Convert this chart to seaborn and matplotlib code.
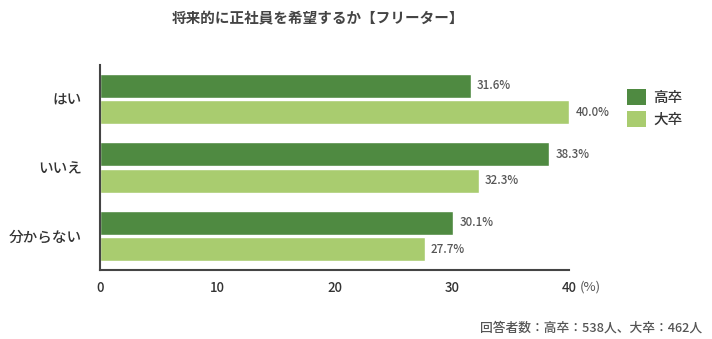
import matplotlib
matplotlib.use("Agg")
import matplotlib.pyplot as plt
from matplotlib.patches import Patch
import pandas as pd
import seaborn as sns

# Survey answers by education level
answers = ["はい", "いいえ", "分からない"]
groups = ["高卒", "大卒"]
high_school = [31.6, 38.3, 30.1]
university = [40.0, 32.3, 27.7]
x_ticks = [0, 10, 20, 30, 40]

title = "将来的に正社員を希望するか【フリーター】"
note = "回答者数：高卒：538人、大卒：462人"

colors = ["#4f8a41", "#a9cc6f"]

sns.set_theme(style="white")
plt.rcParams["font.family"] = ["Noto Sans CJK JP", "DejaVu Sans"]

df = pd.DataFrame({
    "answer": answers * 2,
    "group": [groups[0]] * 3 + [groups[1]] * 3,
    "value": high_school + university,
})

fig = plt.figure(figsize=(7.12, 3.39), dpi=100)
ax = fig.add_axes([100 / 712, 69 / 339, 469 / 712, 205 / 339])

sns.barplot(data=df, y="answer", x="value", hue="group", order=answers,
            hue_order=groups, palette=colors, orient="h", width=0.78, gap=0.1,
            saturation=1, ax=ax, legend=False)

for container in ax.containers:
    ax.bar_label(container, fmt="%.1f%%", padding=4.5, fontsize=8.3,
                 color="#555555", fontweight="medium")

ax.set_xlim(0, 40)
ax.set_ylim(2.5, -0.5)
ax.set_xticks(x_ticks)
ax.set_xticklabels([str(t) for t in x_ticks], fontsize=9.5, color="#333333",
                   fontweight="medium")
for lbl in ax.get_yticklabels():
    lbl.set_fontweight("medium")
ax.tick_params(axis="y", labelsize=10.5, labelcolor="#333333", length=0, pad=13)
ax.tick_params(axis="x", length=0, pad=8)
ax.set_xlabel("")
ax.set_ylabel("")
for side in ["top", "right"]:
    ax.spines[side].set_visible(False)
for side in ["left", "bottom"]:
    ax.spines[side].set_color("#444444")
    ax.spines[side].set_linewidth(1.5)

fig.text(580 / 712, 1 - 287 / 339, "(%)", fontsize=9.5, color="#555555",
         va="center", ha="left")

# Legend
handles = [Patch(facecolor=c, edgecolor="none") for c in colors]
fig.legend(handles, groups, loc="upper left", bbox_to_anchor=(614 / 712, 1 - 76 / 339),
           frameon=False, handlelength=1.3, handleheight=1.3,
           handletextpad=0.5, labelspacing=0.4, labelcolor="#333333",
           prop={"size": 10.5, "weight": "medium"})

fig.text(318 / 712, 1 - 17 / 339, title, fontsize=10.5, fontweight="bold",
         color="#444444", ha="center", va="center")
fig.text(702 / 712, 1 - 328 / 339, note, fontsize=9.2, color="#555555",
         ha="right", va="center", fontweight="medium")

fig.savefig("out.png", dpi=100)
